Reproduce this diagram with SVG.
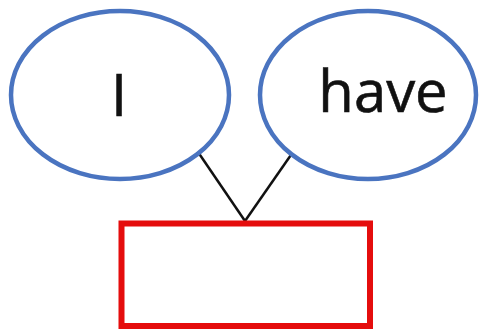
<svg xmlns="http://www.w3.org/2000/svg" width="480" height="331" viewBox="0 0 480 331">
<style>
.node ellipse{fill:#fff;stroke:#4a74c0;stroke-width:4.5}
.lbl{font-family:"Open Sans","Liberation Sans",sans-serif;font-size:58px;fill:#111;text-anchor:middle;stroke:#111;stroke-width:0.6}
.conn line{stroke:#111;stroke-width:2.5}
</style>
<rect width="480" height="331" fill="#fff"/>
<g class="conn" id="connectors">
<line x1="198" y1="152" x2="245" y2="221"/>
<line x1="293" y1="152" x2="245" y2="221"/>
</g>
<g class="node" id="node-I">
<ellipse cx="120" cy="95" rx="109" ry="84"/>
<text class="lbl" x="119" y="116">I</text>
</g>
<g class="node" id="node-have">
<ellipse cx="368" cy="95" rx="108" ry="84"/>
<text class="lbl" x="383" y="112">have</text>
</g>
<g id="node-box">
<rect x="121.5" y="223.5" width="248.5" height="102.5" fill="#fff" stroke="#e50d0d" stroke-width="6"/>
</g>
</svg>
